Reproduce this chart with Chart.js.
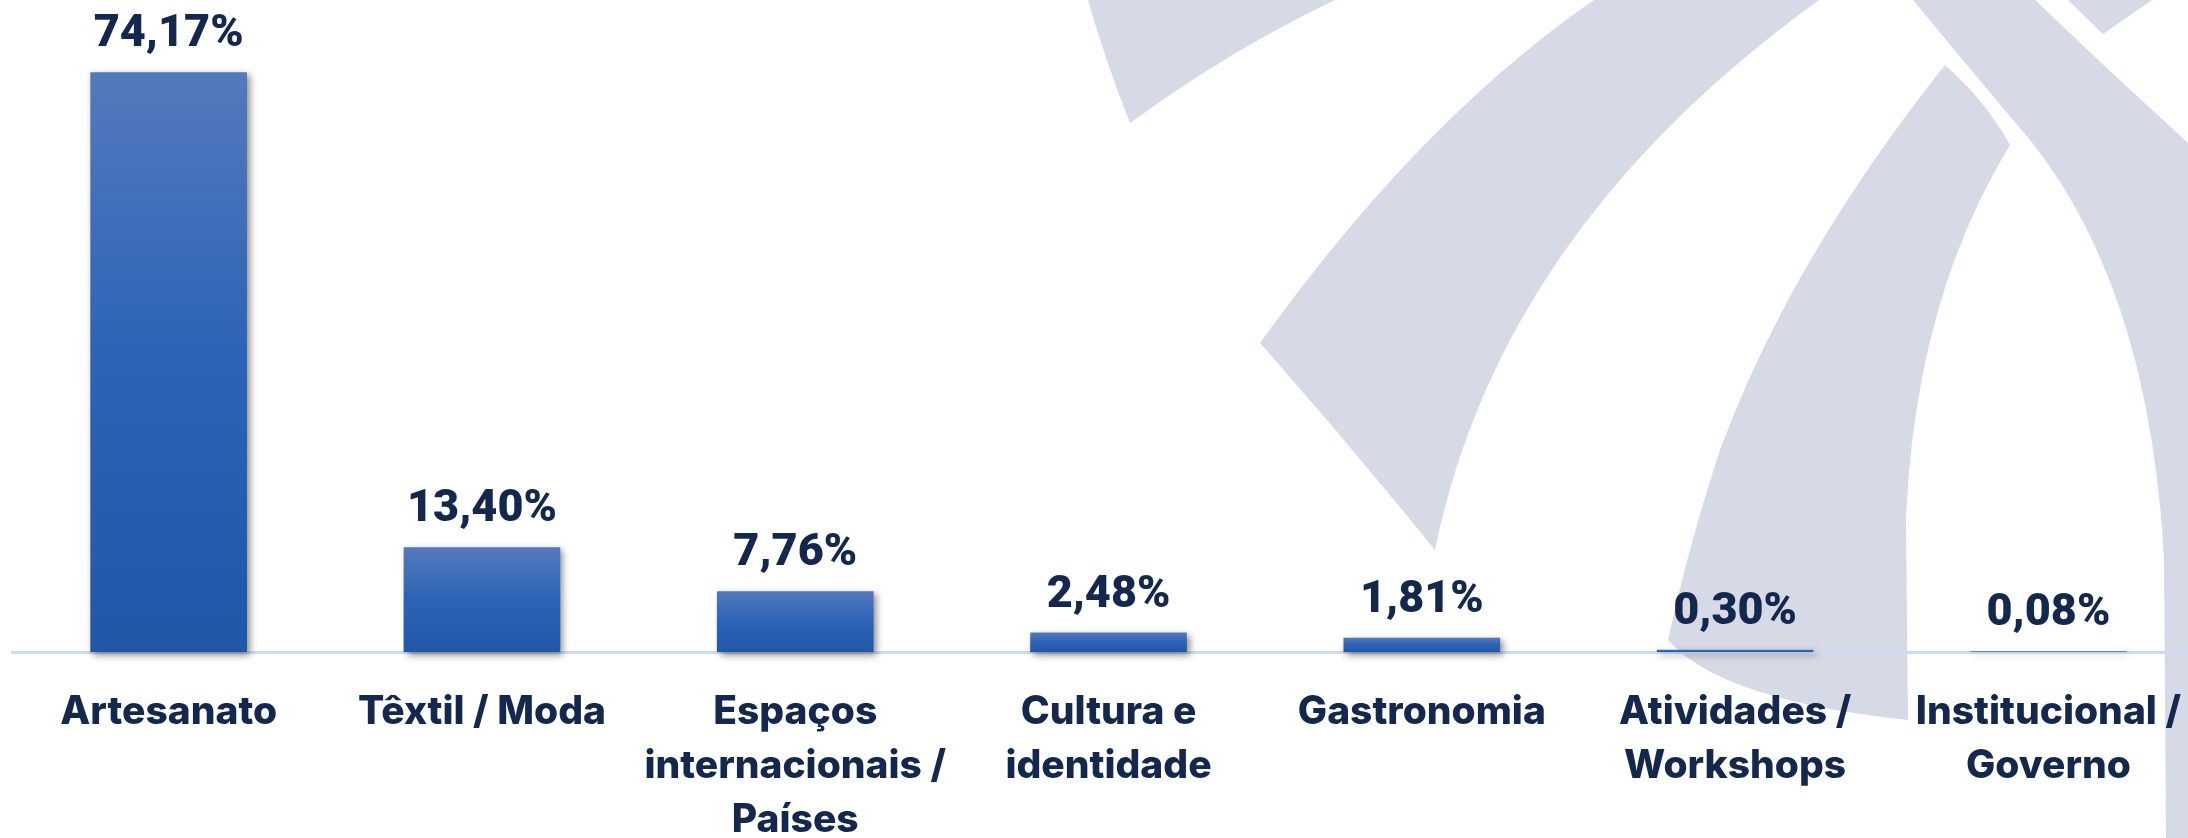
<!DOCTYPE html>
<html><head><meta charset="utf-8">
<script src="https://cdn.jsdelivr.net/npm/chart.js@4.4.0/dist/chart.umd.min.js"></script>
<style>
html,body{margin:0;padding:0;background:#fff;overflow:hidden;width:2188px;height:838px;position:relative;}
#wm{position:absolute;left:0;top:0;}
#wrap{position:absolute;left:0;top:0;width:2214px;height:838px;}
</style></head><body>
<svg id="wm" width="2188" height="838" xmlns="http://www.w3.org/2000/svg">
  <g fill="#d6dae7">
    <path d="M1088,0 Q1105,60 1130,123 Q1230,50 1335,0 Z"/>
    <path d="M1594,0 Q1420,120 1260,343 Q1350,445 1435,550 Q1500,230 1819,0 Z"/>
    <path d="M1945,65 Q1790,260 1720,450 Q1690,540 1668,640 Q1720,700 1908,720 L1906,520 Q1915,300 2010,145 Q1985,100 1945,65 Z"/>
    <path d="M1913,0 L2035,0 Q2110,72 2188,143 L2188,838 L2166,838 L2164,560 Q2150,290 2030,140 Q1975,75 1913,0 Z"/>
    <path d="M2068,0 L2152,0 L2103,34 Z"/>
  </g>
</svg>
<div id="wrap"><canvas id="c"></canvas></div>
<script>
const categories = [
  'Artesanato',
  'Têxtil / Moda',
  ['Espaços', 'internacionais /', 'Países'],
  ['Cultura e', 'identidade'],
  'Gastronomia',
  ['Atividades /', 'Workshops'],
  ['Institucional /', 'Governo']
];
const values = [74.17, 13.40, 7.76, 2.48, 1.81, 0.30, 0.08];
const valueLabels = ['74,17%', '13,40%', '7,76%', '2,48%', '1,81%', '0,30%', '0,08%'];

const FONT = "Inter, 'Open Sans', sans-serif";
const VFONT = "Roboto, Inter, sans-serif";
const TEXT = '#14284e';

const shadowPlugin = {
  id: 'barShadow',
  beforeDatasetsDraw(chart) {
    const c = chart.ctx; c.save();
    c.shadowColor = 'rgba(0,0,0,0.45)';
    c.shadowBlur = 7; c.shadowOffsetX = 3; c.shadowOffsetY = 3;
  },
  afterDatasetsDraw(chart) { chart.ctx.restore(); }
};
const labelPlugin = {
  id: 'valueLabels',
  afterDatasetsDraw(chart) {
    const c = chart.ctx;
    const meta = chart.getDatasetMeta(0);
    c.save();
    c.font = "900 45px " + VFONT;
    c.fillStyle = TEXT;
    c.textAlign = 'center';
    c.textBaseline = 'alphabetic';
    meta.data.forEach((bar, i) => {
      c.fillText(valueLabels[i], bar.x, bar.y - 26);
    });
    c.restore();
  }
};

new Chart(document.getElementById('c'), {
  type: 'bar',
  data: {
    labels: categories,
    datasets: [{
      data: values,
      clip: false,
      barPercentage: 1,
      categoryPercentage: 0.5,
      borderWidth: 0,
      backgroundColor: (ctx) => {
        const chart = ctx.chart;
        if (!chart.chartArea || ctx.type !== 'data') return '#2c62b5';
        const y = chart.scales.y;
        const top = y.getPixelForValue(ctx.raw);
        const bottom = y.getPixelForValue(0);
        if (bottom - top < 2) return '#3a6cc0';
        const g = chart.ctx.createLinearGradient(0, top, 0, bottom);
        g.addColorStop(0, '#5479bd');
        g.addColorStop(0.5, '#2c63b6');
        g.addColorStop(1, '#2157a7');
        return g;
      }
    }]
  },
  options: {
    responsive: true,
    maintainAspectRatio: false,
    animation: false,
    devicePixelRatio: 1,
    layout: { padding: { left: 12, right: 0, top: 0, bottom: 0 } },
    plugins: { legend: { display: false }, tooltip: { enabled: false } },
    scales: {
      y: { display: false, min: 0, max: 83.4 },
      x: {
        grid: { display: false, drawTicks: false },
        border: { display: true, color: '#cfdbf1', width: 3 },
        ticks: {
          color: TEXT,
          font: { family: FONT, size: 39, weight: '800', lineHeight: 1.385 },
          padding: 33,
          autoSkip: false,
          maxRotation: 0,
          minRotation: 0
        },
        afterFit: (s) => { s.height = 186; }
      }
    }
  },
  plugins: [shadowPlugin, labelPlugin]
});
</script>
</body></html>
